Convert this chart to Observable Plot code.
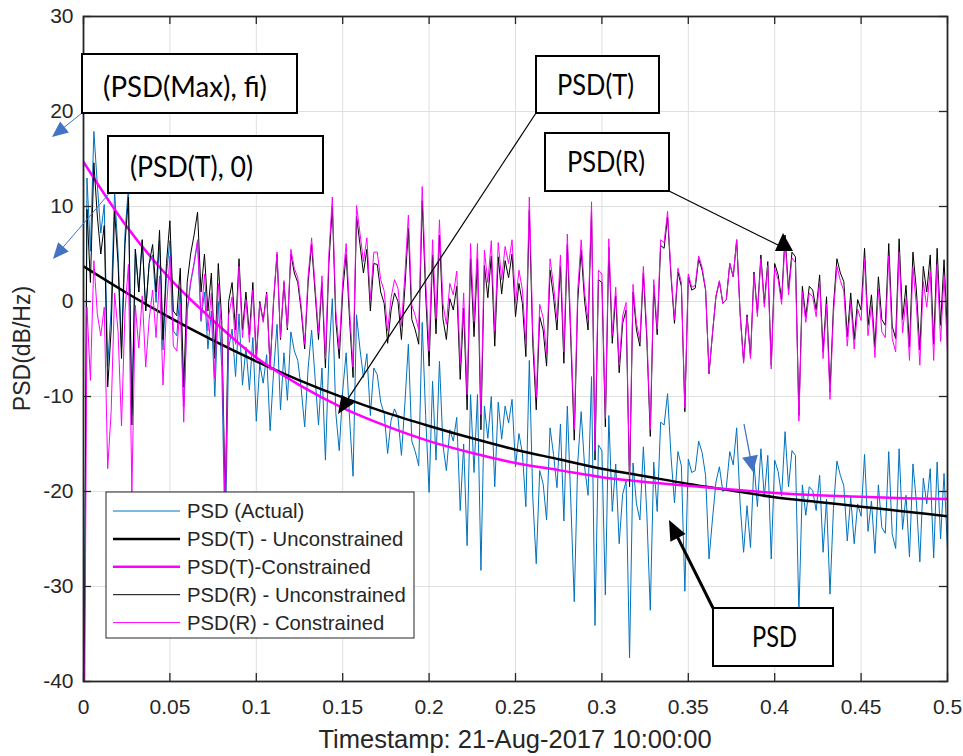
<!DOCTYPE html>
<html>
<head>
<meta charset="utf-8">
<script src="https://cdn.jsdelivr.net/npm/d3@7"></script>
<script src="https://cdn.jsdelivr.net/npm/@observablehq/plot@0.6"></script>
<style>
  body { margin: 0; background: #fff; }
  #chart svg { display: block; }
</style>
</head>
<body>
<div id="chart"></div>
<script>
// ---------------- data ----------------
const freqStep = 0.002; // spacing of the PSD bins along the x axis

const psdActual = [
 -50.3, 13.0, 5.3, 17.9, 12.3, 7.2, 10.2, -6.8, -0.8, 11.7,
 5.1, -4.9, 7.1, 12.1, -11.9, 5.5, 1.0, 6.5, -1.0, 4.0,
 4.9, -0.1, 6.4, -5.1, 2.9, 6.4, -3.1, -3.6, 1.4, -11.1,
 -1.1, 1.9, 3.9, 6.3, -2.1, 1.0, -5.0, -1.0, -10.0, 0.0,
 -6.9, -25.9, -4.9, -2.9, -7.9, -1.3, -8.8, -4.8, -9.3, -3.8,
 -12.6, -6.6, -8.6, -5.6, -13.6, -7.4, -2.4, -11.4, -5.4, -10.4,
 -3.2, -5.2, -6.2, -9.2, -13.2, -7.0, -3.0, -8.0, -13.0, -7.0,
 -16.7, -5.7, 0.3, -11.7, -15.7, -9.4, -5.4, -12.4, -18.4, -1.4,
 -5.0, -8.0, -5.5, -12.0, -7.0, -7.7, -10.6, -11.8, -16.0, -12.5,
 -11.3, -12.2, -16.2, -10.7, -4.5, -14.7, -15.8, -17.3, -2.2, -12.0,
 -20.1, -8.4, -16.7, -6.3, -15.1, -17.8, -13.5, -14.7, -12.2, -22.0,
 -15.0, -25.7, -9.8, -18.0, -9.8, -28.3, -11.0, -14.4, -10.0, -19.5,
 -10.6, -14.5, -11.0, -12.8, -10.3, -17.4, -13.9, -16.0, -21.6, -6.2,
 -20.6, -27.6, -17.8, -19.2, -23.0, -13.3, -16.1, -19.6, -12.9, -23.1,
 -11.0, -21.0, -31.6, -17.0, -11.6, -17.4, -20.4, -7.9, -34.1, -15.1,
 -15.7, -30.9, -12.0, -22.1, -17.1, -25.5, -20.3, -18.9, -37.5, -17.0,
 -21.3, -23.0, -15.3, -22.3, -32.5, -16.9, -22.1, -12.7, -13.0, -9.7,
 -16.3, -21.2, -15.8, -17.3, -30.5, -16.6, -18.0, -17.8, -14.7, -15.9,
 -18.3, -27.1, -22.9, -19.0, -17.4, -20.0, -19.6, -15.8, -17.2, -13.3,
 -21.3, -26.4, -21.5, -25.9, -17.0, -21.6, -15.5, -20.6, -16.2, -27.1,
 -16.7, -17.9, -20.5, -13.7, -19.5, -15.7, -16.2, -32.9, -19.3, -22.5,
 -19.5, -19.9, -22.0, -18.3, -26.4, -20.8, -30.8, -21.8, -16.8, -18.3,
 -19.4, -25.2, -20.6, -25.5, -21.3, -22.6, -16.1, -24.2, -21.0, -26.5,
 -19.3, -23.8, -24.4, -15.8, -24.5, -26.0, -15.5, -24.0, -20.4, -26.9,
 -17.1, -21.1, -27.4, -18.6, -21.3, -17.6, -27.0, -16.9, -25.0, -18.1,
 -26.2
];

const psdRUnconstrained = [
 -54, 9.7, 2, 14.6, 9, 5, 8, -9, -3, 9.5,
 4, -6, 6, 11, -13, 5.5, 1, 6.5, -1, 4,
 6, 1, 7.5, -4, 4, 8.5, -1, -1.5, 3.5, -9,
 2, 5, 7, 9.4, 1, 5, -1, 3, -6, 4,
 -2, -21, 0, 2, -3, 4.5, -3, 1, -3.5, 2,
 -6, 0, -2, 1, -7, 0, 5, -4, 2, -3,
 5, 3, 2, -1, -5, 2, 6, 1, -4, 2,
 -7, 4, 10, -2, -6, 1, 5, -2, -8, 9,
 6, 3, 5.5, -1, 4, 3.9, 1, -0.2, -4.4, -0.9,
 0.9, 0, -4, 1.5, 7.7, -1.9, -3, -4.5, 10.6, 0.8,
 -6.8, 4.9, -3.4, 7, -1.8, -4, 0.3, -0.9, 1.6, -8.2,
 -0.7, -11.4, 4.5, -3.7, 4.5, -13.5, 3.8, 0.4, 4.8, -4.7,
 4.7, 0.8, 4.3, 2.5, 5, -1.6, 1.9, -0.2, -5.8, 9.6,
 -4.4, -11.4, -1.6, -3, -6.8, 3.3, 0.5, -3, 3.7, -6.5,
 6, -4, -14.6, 0, 5.4, 0, -3, 9.5, -16.7, 2.3,
 2, -13.2, 5.7, -4.4, 0.6, -7.5, -2.3, -0.9, -19.5, 1,
 -3, -4.7, 3, -4, -14.2, 1.7, -3.5, 5.9, 5.6, 8.9,
 2.6, -2.3, 3.1, 1.6, -11.6, 2.6, 1.2, 1.4, 4.5, 3.3,
 1.2, -7.6, -3.4, 0.5, 2.1, -0.2, 0.2, 4, 2.6, 6.5,
 -1.2, -6.3, -1.4, -5.8, 3.1, -1.2, 4.9, -0.2, 4.2, -6.7,
 4, 2.8, 0.2, 7, 1.2, 5.2, 4.7, -12, 1.6, -1.6,
 1.6, 1.2, -0.9, 2.8, -5.3, 0.5, -9.5, -0.5, 4.5, 3,
 2.1, -3.7, 0.9, -4, 0.2, -0.9, 5.6, -2.5, 0.7, -4.8,
 2.6, -1.9, -2.5, 6.1, -2.6, -3.9, 6.6, -1.9, 1.7, -4.8,
 5.2, 1.2, -5.1, 3.7, 1.0, 4.9, -4.5, 5.6, -2.5, 4.4,
 -3.6
];

const psdRConstrained = [
 -65.0, -0.6, -8.3, 4.3, -1.3, -3.6, -0.6, -17.6, -11.6, 0.9,
 -3.1, -13.1, -1.1, 3.9, -20.1, -0.4, -4.9, 0.6, -6.9, -1.9,
 1.2, -3.8, 2.7, -8.8, -0.8, 4.8, -4.7, -5.2, -0.2, -12.7,
 -0.9, 2.1, 4.1, 6.5, -1.9, 2.9, -3.1, 0.9, -8.1, 1.9,
 -3.5, -22.5, -1.5, 0.5, -4.5, 3.7, -3.8, 0.2, -4.3, 1.2,
 -6.2, -0.2, -2.2, 0.8, -7.2, 0.2, 5.2, -3.8, 2.2, -2.8,
 5.5, 3.5, 2.5, -0.5, -4.5, 2.7, 6.7, 1.7, -3.3, 2.7,
 -6.0, 5.0, 11.0, -1.0, -5.0, 2.1, 6.1, -0.9, -6.9, 10.1,
 7.2, 4.2, 6.7, 0.2, 5.2, 5.2, 2.3, 1.1, -3.1, 0.4,
 2.3, 1.4, -2.6, 2.9, 9.1, -0.4, -1.5, -3.0, 12.1, 2.3,
 -5.2, 6.5, -1.8, 8.6, -0.2, -2.4, 1.9, 0.7, 3.2, -6.6,
 0.9, -9.8, 6.1, -2.1, 6.1, -11.9, 5.4, 2.0, 6.4, -3.1,
 6.2, 2.3, 5.8, 4.0, 6.5, -0.2, 3.3, 1.2, -4.4, 11.0,
 -3.1, -10.1, -0.3, -1.7, -5.5, 4.5, 1.7, -1.8, 4.9, -5.3,
 7.1, -2.9, -13.5, 1.1, 6.5, 1.0, -2.0, 10.5, -15.7, 3.3,
 2.9, -12.3, 6.6, -3.5, 1.5, -6.7, -1.5, -0.1, -18.7, 1.8,
 -2.3, -4.0, 3.7, -3.3, -13.5, 2.3, -2.9, 6.5, 6.2, 9.5,
 3.0, -1.9, 3.5, 2.0, -11.2, 2.9, 1.5, 1.7, 4.8, 3.6,
 1.3, -7.5, -3.3, 0.6, 2.2, -0.2, 0.2, 4.0, 2.6, 6.5,
 -1.4, -6.5, -1.6, -6.0, 2.9, -1.6, 4.5, -0.6, 3.8, -7.1,
 3.5, 2.3, -0.3, 6.5, 0.7, 4.6, 4.1, -12.6, 1.0, -2.2,
 0.9, 0.5, -1.6, 2.1, -6.0, -0.3, -10.3, -1.3, 3.7, 2.2,
 1.1, -4.7, -0.1, -5.0, -0.8, -2.0, 4.5, -3.6, -0.4, -5.9,
 1.3, -3.2, -3.8, 4.8, -3.9, -5.3, 5.2, -3.3, 0.3, -6.2,
 3.6, -0.4, -6.7, 2.1, -0.6, 3.2, -6.2, 3.9, -4.2, 2.7,
 -5.4
];

// fitted trend curves, read at every 0.025
const trendX = [0, 0.025, 0.05, 0.075, 0.1, 0.125, 0.15, 0.175, 0.2, 0.225, 0.25,
                0.275, 0.3, 0.325, 0.35, 0.375, 0.4, 0.425, 0.45, 0.475, 0.5];
const psdTUnconstrained = [3.7, 0.9, -1.7, -4.1, -6.3, -8.3, -10.1, -11.7, -13.1, -14.4, -15.6,
                           -16.6, -17.6, -18.4, -19.2, -19.9, -20.6, -21.1, -21.6, -22.1, -22.6];
const psdTConstrained = [14.7, 7.9, 2.4, -2.0, -5.9, -8.8, -11.2, -13.1, -14.7, -15.95, -17.0,
                         -17.75, -18.5, -19.0, -19.4, -19.8, -20.15, -20.4, -20.55, -20.7, -20.8];

const xTicks = [0, 0.05, 0.1, 0.15, 0.2, 0.25, 0.3, 0.35, 0.4, 0.45, 0.5];
const xTickLabels = ["0", "0.05", "0.1", "0.15", "0.2", "0.25", "0.3", "0.35", "0.4", "0.45", "0.5"];
const yTicks = [-40, -30, -20, -10, 0, 10, 20, 30];
const yTickLabels = ["-40", "-30", "-20", "-10", "0", "10", "20", "30"];

const seriesNames = ["PSD (Actual)", "PSD(T) - Unconstrained", "PSD(T)-Constrained",
                     "PSD(R) - Unconstrained", "PSD(R) - Constrained"];
const seriesColors = ["#0072BD", "#000000", "#FF00FF", "#000000", "#FF00FF"];
const seriesWidths = [1, 2.5, 2.5, 1, 1];

const xTitle = "Timestamp: 21-Aug-2017 10:00:00";
const yTitle = "PSD(dB/Hz)";

// ---------------- tables for the library ----------------
const binRows = vals => vals.map((v, i) => ({x: i * freqStep, y: v}));
const trendRows = vals => vals.map((v, i) => ({x: trendX[i], y: v}));

const W = 963, H = 756, ML = 83, MR = 16, MT = 16, MB = 75;
const pxPerX = (W - ML - MR) / 0.5;
const pxPerY = (H - MT - MB) / 70;
const tickPx = 8;
const axisColor = "#262626";

const chart = Plot.plot({
  width: W, height: H,
  marginLeft: ML, marginRight: MR, marginTop: MT, marginBottom: MB,
  x: {domain: [0, 0.5]},
  y: {domain: [-40, 30]},
  style: {fontFamily: "'Liberation Sans', Arial, sans-serif", fontSize: "21px", color: axisColor, background: "#fff"},
  marks: [
    Plot.gridX(xTicks, {stroke: "#dfdfdf", strokeOpacity: 1, strokeWidth: 1}),
    Plot.gridY(yTicks, {stroke: "#dfdfdf", strokeOpacity: 1, strokeWidth: 1}),
    Plot.line(binRows(psdActual), {x: "x", y: "y", stroke: seriesColors[0], strokeWidth: seriesWidths[0], clip: true, strokeLinejoin: "miter", strokeMiterlimit: 3}),
    Plot.line(trendRows(psdTUnconstrained), {x: "x", y: "y", stroke: seriesColors[1], strokeWidth: seriesWidths[1], curve: "monotone-x", clip: true}),
    Plot.line(trendRows(psdTConstrained), {x: "x", y: "y", stroke: seriesColors[2], strokeWidth: seriesWidths[2], curve: "monotone-x", clip: true}),
    Plot.line(binRows(psdRUnconstrained), {x: "x", y: "y", stroke: seriesColors[3], strokeWidth: seriesWidths[3], clip: true, strokeLinejoin: "miter", strokeMiterlimit: 3}),
    Plot.line(binRows(psdRConstrained), {x: "x", y: "y", stroke: seriesColors[4], strokeWidth: seriesWidths[4], clip: true, strokeLinejoin: "miter", strokeMiterlimit: 3}),
    // inward ticks on all four sides
    Plot.ruleX(xTicks, {y1: -40, y2: -40 + tickPx / pxPerY, stroke: axisColor, strokeWidth: 1.3}),
    Plot.ruleX(xTicks, {y1: 30 - tickPx / pxPerY, y2: 30, stroke: axisColor, strokeWidth: 1.3}),
    Plot.ruleY(yTicks, {x1: 0, x2: tickPx / pxPerX, stroke: axisColor, strokeWidth: 1.3}),
    Plot.ruleY(yTicks, {x1: 0.5 - tickPx / pxPerX, x2: 0.5, stroke: axisColor, strokeWidth: 1.3}),
    Plot.frame({stroke: axisColor, strokeWidth: 1.8}),
    Plot.axisX(xTicks, {tickSize: 0, tickPadding: 18, label: null, fill: axisColor,
      tickFormat: d => xTickLabels[xTicks.indexOf(d)]}),
    Plot.axisY(yTicks, {tickSize: 0, tickPadding: 10, label: null, fill: axisColor,
      tickFormat: d => yTickLabels[yTicks.indexOf(d)]})
  ]
});
document.getElementById("chart").appendChild(chart);

// ---------------- titles, legend, annotations ----------------
const svg = d3.select(chart);
const deco = svg.append("g");

deco.append("text").text(xTitle)
  .attr("x", (ML + W - MR) / 2).attr("y", 748)
  .attr("text-anchor", "middle").attr("fill", axisColor)
  .style("font-family", "'Liberation Sans', Arial, sans-serif").style("font-size", "25.5px");

deco.append("text").text(yTitle)
  .attr("transform", `translate(22,${(MT + H - MB) / 2}) rotate(-90)`)
  .attr("text-anchor", "middle").attr("dominant-baseline", "central").attr("fill", axisColor)
  .style("font-family", "'Liberation Sans', Arial, sans-serif").style("font-size", "23px");

// legend
const lg = deco.append("g");
lg.append("rect").attr("x", 106).attr("y", 492).attr("width", 308).attr("height", 146)
  .attr("fill", "#fff").attr("stroke", axisColor).attr("stroke-width", 1);
seriesNames.forEach((name, i) => {
  const cy = 511 + i * 27.9;
  lg.append("line").attr("x1", 113).attr("x2", 180).attr("y1", cy).attr("y2", cy)
    .attr("stroke", seriesColors[i]).attr("stroke-width", seriesWidths[i]);
  lg.append("text").text(name).attr("x", 187).attr("y", cy)
    .attr("text-anchor", "start")
    .attr("dominant-baseline", "central").attr("fill", axisColor)
    .style("font-family", "'Liberation Sans', Arial, sans-serif").style("font-size", "20.3px");
});

// arrows
function arrow(x1, y1, x2, y2, color, width, len, hw) {
  const dx = x2 - x1, dy = y2 - y1, L = Math.hypot(dx, dy), ux = dx / L, uy = dy / L;
  const bx = x2 - ux * len, by = y2 - uy * len;
  deco.append("line").attr("x1", x1).attr("y1", y1).attr("x2", bx + ux * 2).attr("y2", by + uy * 2)
    .attr("stroke", color).attr("stroke-width", width);
  deco.append("polygon")
    .attr("points", [[x2, y2], [bx - uy * hw, by + ux * hw], [bx + uy * hw, by - ux * hw]].map(p => p.join(",")).join(" "))
    .attr("fill", color);
}
const annBlue = "#4472C4";
arrow(82, 113, 52, 137, annBlue, 1, 16, 7);
arrow(113, 189, 53, 259, annBlue, 1, 16, 7);
arrow(536, 113, 338, 414, "#000", 1.2, 18, 7.5);
arrow(713, 608, 669, 520, "#000", 3, 20, 8.5);
arrow(744, 424, 753, 472, annBlue, 1.3, 16, 8);
deco.append("line").attr("x1", 669).attr("y1", 191).attr("x2", 778).attr("y2", 245)
  .attr("stroke", "#000").attr("stroke-width", 1.2);
deco.append("polygon").attr("points", "783,233 775,251 793,251").attr("fill", "#000");

// callout boxes
const callouts = [
  {text: "(PSD(Max), fi)", x: 82, y: 54, w: 215, h: 59, tx: 103, ty: 97, tl: 164},
  {text: "(PSD(T), 0)", x: 108, y: 136, w: 215, h: 57, tx: 130, ty: 177, tl: 123},
  {text: "PSD(T)", x: 536, y: 56, w: 123, h: 57, tx: 557, ty: 95, tl: 77},
  {text: "PSD(R)", x: 545, y: 133, w: 124, h: 58, tx: 567, ty: 172, tl: 78},
  {text: "PSD", x: 713, y: 608, w: 120, h: 58, tx: 752, ty: 647, tl: 45}
];
callouts.forEach(c => {
  deco.append("rect").attr("x", c.x).attr("y", c.y).attr("width", c.w).attr("height", c.h)
    .attr("fill", "#fff").attr("stroke", "#000").attr("stroke-width", 2);
  deco.append("text").text(c.text).attr("x", c.tx).attr("y", c.ty)
    .attr("text-anchor", "start")
    .attr("textLength", c.tl).attr("lengthAdjust", "spacingAndGlyphs")
    .attr("fill", "#000")
    .style("font-family", "Lato, 'Open Sans', sans-serif").style("font-size", "28px");
});
</script>
</body>
</html>
